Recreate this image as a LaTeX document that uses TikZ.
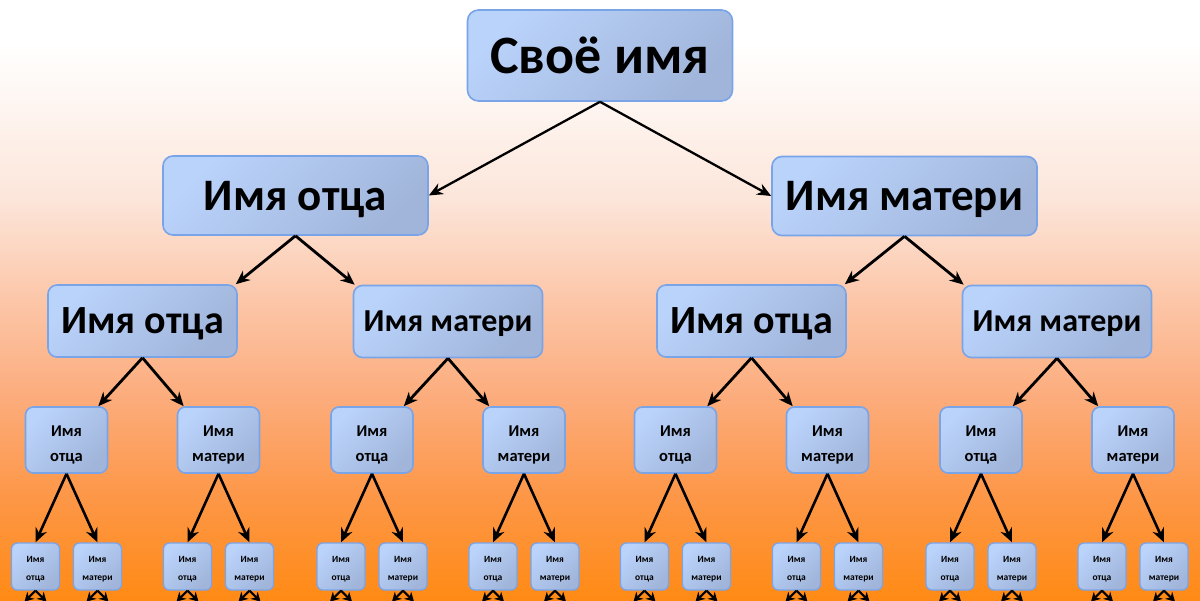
\documentclass[tikz,border=0pt]{standalone}
\usepackage{fontspec}
\setmainfont{Carlito}
\usetikzlibrary{arrows.meta}

\definecolor{bgA}{HTML}{FF8A14}
\definecolor{bgB}{HTML}{FD9645}
\definecolor{bgC}{HTML}{FCAB7A}
\definecolor{bgD}{HTML}{FCC6A8}
\definecolor{bgE}{HTML}{FCE5D9}
\definecolor{bgF}{HTML}{FEF6F2}
\definecolor{boxline}{HTML}{7AA4E8}
\definecolor{boxlight}{HTML}{BAD3FB}
\definecolor{boxdark}{HTML}{A1B5DA}

\pgfdeclareverticalshading{bgfade}{100bp}{color(0bp)=(bgA); color(25bp)=(bgA);
  color(33.3bp)=(bgB); color(41.6bp)=(bgC); color(50bp)=(bgD); color(58.3bp)=(bgE);
  color(66.6bp)=(bgF); color(71.5bp)=(white); color(100bp)=(white)}

\tikzset{
  box/.style={draw=boxline, line width=1.6pt, top color=boxlight, bottom color=boxdark,
    shading angle=45, inner sep=0pt, align=center, font=\bfseries, text=black},
  lvlzero/.style={box, rounded corners=11pt, minimum width=265pt, minimum height=91pt,
    text depth=0pt, font=\fontsize{54}{60}\bfseries},
  lvlone/.style={box, rounded corners=10pt, minimum width=265pt, minimum height=79pt,
    text depth=0pt, font=\fontsize{45}{50}\bfseries},
  lvltwo/.style={box, rounded corners=9pt, minimum width=189pt, minimum height=72pt,
    text depth=0pt},
  lvlthree/.style={box, rounded corners=8pt, minimum width=82pt, minimum height=66pt,
    font=\fontsize{16.5}{25}\bfseries},
  lvlfour/.style={box, line width=1.3pt, rounded corners=6pt, minimum width=48pt,
    minimum height=47pt, font=\fontsize{9.5}{18}\bfseries},
  link/.style={-{Stealth[length=14pt,width=12pt]}, line width=2.8pt, black},
  stub/.style={-{Stealth[length=9pt,width=10pt]}, line width=2.2pt, black},
}

\begin{document}
\begin{tikzpicture}[x=1pt, y=-1pt]
  \useasboundingbox (0,0) rectangle (1200,601);
  \clip (0,0) rectangle (1200,601);
  \shade[shading=bgfade] (0,0) rectangle (1200,601);

  % root and parents
  \node[lvlzero] (me) at (600,55.5) {Своё имя};
  \node[lvlone] (f) at (295.5,195.5) {Имя отца};
  \node[lvlone] (m) at (904.5,196) {Имя матери};
  \draw[link, line width=2.3pt] (me.south) -- (f.east);
  \draw[link, line width=2.3pt] (me.south) -- (m.west);

  % grandparents
  \node[lvltwo, font=\fontsize{40}{44}\bfseries] (ff) at (142.5,321) {Имя отца};
  \node[lvltwo, font=\fontsize{32}{36}\bfseries] (fm) at (448,321.5) {Имя матери};
  \node[lvltwo, font=\fontsize{40}{44}\bfseries] (mf) at (751.5,321) {Имя отца};
  \node[lvltwo, font=\fontsize{32}{36}\bfseries] (mm) at (1057,321.5) {Имя матери};
  \foreach \p in {f,m} {
    \draw[link] (\p.south) -- ([xshift=-2pt]\p f.north east);
    \draw[link] (\p.south) -- ([xshift=2pt]\p m.north west);
  }

  % great-grandparents
  \foreach \q/\x in {ff/142.5, fm/448, mf/751.5, mm/1057} {
    \node[lvlthree] (\q f) at (\x-76,440) {\rule{0pt}{20pt}Имя\\отца};
    \node[lvlthree] (\q m) at (\x+76,440) {\rule{0pt}{20pt}Имя\\матери};
    \draw[link] (\q.south) -- ([xshift=-10pt]\q f.north east);
    \draw[link] (\q.south) -- ([xshift=7pt]\q m.north west);
  }

  % next generation, running off the page
  \foreach \q in {fff,ffm,fmf,fmm,mff,mfm,mmf,mmm} {
    \node[lvlfour] (\q f) at ([shift={(-31,126.5)}]\q) {\rule{0pt}{12pt}Имя\\отца};
    \node[lvlfour] (\q m) at ([shift={(31,126.5)}]\q) {\rule{0pt}{12pt}Имя\\матери};
    \draw[link, line width=2.6pt] (\q.south) -- (\q f.north);
    \draw[link, line width=2.6pt] (\q.south) -- (\q m.north);
    \foreach \c in {f,m} {
      \coordinate (\q\c L) at ([shift={(-11,11)}]\q\c.south);
      \coordinate (\q\c R) at ([shift={(11,11)}]\q\c.south);
      \draw[stub] (\q\c.south) -- (\q\c L);
      \draw[stub] (\q\c.south) -- (\q\c R);
    }
  }
\end{tikzpicture}
\end{document}
